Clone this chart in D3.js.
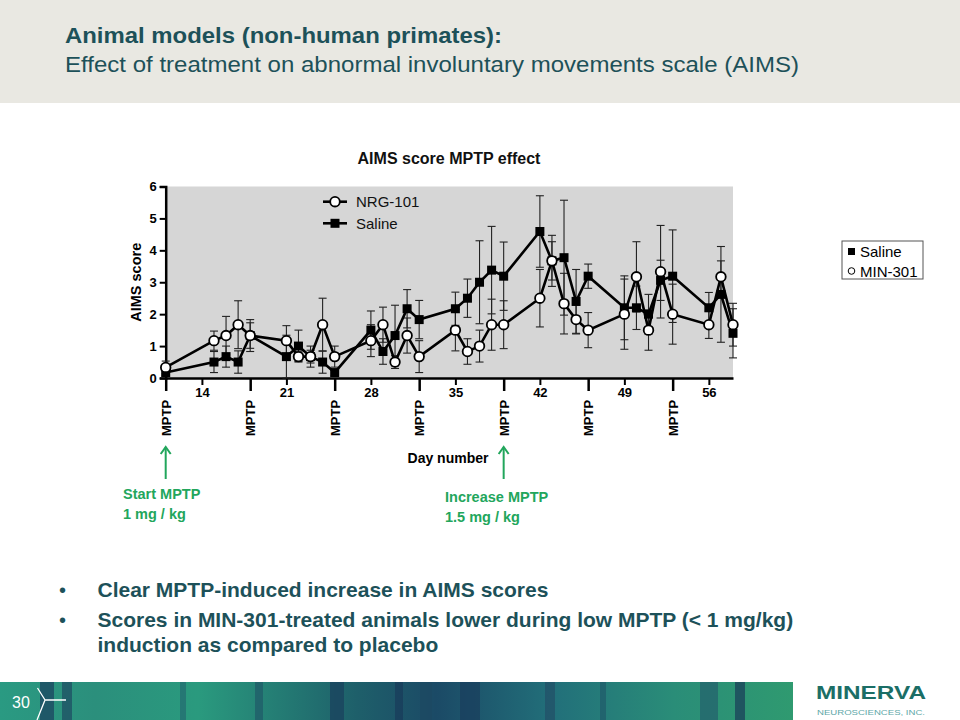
<!DOCTYPE html>
<html>
<head>
<meta charset="utf-8">
<script src="https://cdn.jsdelivr.net/npm/d3@7"></script>
<style>
  html, body { margin: 0; padding: 0; background: #fff; }
  svg { display: block; font-family: "Liberation Sans", Arial, sans-serif; }
</style>
</head>
<body>
<svg id="chart" width="960" height="720"></svg>
<script>
// ---- Data ----
const days = [11,15,16,17,18,21,22,23,24,25,28,29,30,31,32,35,36,37,38,39,42,43,44,45,46,49,50,51,52,53,56,57,58];
const nrgValues = [0.33,1.17,1.33,1.67,1.33,1.17,0.67,0.67,1.67,0.67,1.17,1.67,0.5,1.33,0.67,1.5,0.83,1.0,1.67,1.67,2.5,3.67,2.33,1.83,1.5,2.0,3.17,1.5,3.33,2.0,1.67,3.17,1.67];
const nrgErrors = [0.2,0.3,0.6,0.75,0.5,0.47,0.15,0.33,0.83,0.33,0.5,0.55,0.2,0.55,0.5,0.65,0.4,0.5,0.8,0.75,0.9,0.6,0.95,0.45,0.55,1.1,1.1,0.63,1.45,0.94,0.43,0.5,0.67];
const salineValues = [0.17,0.5,0.67,0.5,1.33,0.67,1.0,0.67,0.5,0.17,1.5,0.83,1.33,2.17,1.83,2.17,2.5,3.0,3.38,3.19,4.59,3.67,3.77,2.4,3.19,2.2,2.2,2.0,3.06,3.19,2.2,2.62,1.4];
const salineErrors = [0.1,0.33,0.33,0.35,0.4,0.67,0.5,0.2,0.35,0.1,0.6,0.4,0.95,0.6,0.6,0.52,0.6,1.3,1.37,1.07,1.12,0.8,1.8,1.0,0.38,1.0,0.68,0.62,0.63,1.45,0.48,1.5,0.77];
const dayTicks = [14,21,28,35,42,49,56];
const mptpDays = [11,18,25,32,39,46,53];
const yTicks = [0,1,2,3,4,5,6];
const seriesNames = ["NRG-101","Saline"];
const sideLegend = ["Saline","MIN-301"];
const titleLines = ["Animal models (non-human primates):","Effect of treatment on abnormal involuntary movements scale (AIMS)"];
const bullets = [["Clear MPTP-induced increase in AIMS scores"],["Scores in MIN-301-treated animals lower during low MPTP (< 1 mg/kg)","induction as compared to placebo"]];
const annotations = [{day:11, lines:["Start MPTP","1 mg / kg"]},{day:39, lines:["Increase MPTP","1.5 mg / kg"]}];

const svg = d3.select("#chart");
const teal = "#1d5159";
const green = "#22a65c";

// ---- Header ----
svg.append("rect").attr("x",0).attr("y",0).attr("width",960).attr("height",103).attr("fill","#e9e8e2");
svg.append("text").attr("x",65).attr("y",43).attr("fill",teal)
  .attr("font-size",22).attr("font-weight","bold").attr("textLength",437).attr("lengthAdjust","spacingAndGlyphs").text(titleLines[0]);
svg.append("text").attr("x",65).attr("y",72).attr("fill",teal)
  .attr("font-size",21.5).attr("textLength",734).attr("lengthAdjust","spacingAndGlyphs").text(titleLines[1]);

// ---- Chart ----
const x = d3.scaleLinear().domain([11,58]).range([165.7,733]);
const y = d3.scaleLinear().domain([0,6]).range([378,186.5]);

svg.append("rect").attr("x",x(11)).attr("y",y(6)).attr("width",x(58)-x(11)).attr("height",y(0)-y(6)).attr("fill","#d6d6d6");

svg.append("text").attr("x",449).attr("y",164).attr("text-anchor","middle")
  .attr("font-size",16).attr("font-weight","bold").attr("fill","#111").text("AIMS score MPTP effect");

// y axis
const yAxis = svg.append("g").attr("transform",`translate(${x(11)},0)`)
  .call(d3.axisLeft(y).tickValues(yTicks).tickFormat(d3.format("d")).tickSize(6).tickPadding(3));
yAxis.select(".domain").attr("stroke","#000").attr("stroke-width",2.5);
yAxis.selectAll(".tick line").attr("stroke","#000").attr("stroke-width",2);
yAxis.selectAll(".tick text").attr("font-size",13).attr("font-weight","bold").attr("fill","#000").attr("font-family","Liberation Sans, Arial, sans-serif");

svg.append("text").attr("transform",`translate(141,${y(3)}) rotate(-90)`).attr("text-anchor","middle")
  .attr("font-size",14.5).attr("font-weight","bold").attr("fill","#000").text("AIMS score");

// x axis: numbered ticks
const xAxis = svg.append("g").attr("transform",`translate(0,${y(0)})`)
  .call(d3.axisBottom(x).tickValues(dayTicks).tickFormat(d3.format("d")).tickSize(7).tickPadding(3).tickSizeOuter(0));
xAxis.select(".domain").attr("stroke","#000").attr("stroke-width",2.5);
xAxis.selectAll(".tick line").attr("stroke","#000").attr("stroke-width",2);
xAxis.selectAll(".tick text").attr("font-size",13).attr("font-weight","bold").attr("fill","#000").attr("font-family","Liberation Sans, Arial, sans-serif");

// MPTP ticks
const mAxis = svg.append("g").attr("transform",`translate(0,${y(0)})`)
  .call(d3.axisBottom(x).tickValues(mptpDays).tickFormat(() => "MPTP").tickSize(13).tickPadding(0).tickSizeOuter(0));
mAxis.select(".domain").remove();
mAxis.selectAll(".tick line").attr("stroke","#000").attr("stroke-width",2.5);
mAxis.selectAll(".tick text").attr("font-size",13).attr("font-weight","bold").attr("fill","#000")
  .attr("font-family","Liberation Sans, Arial, sans-serif")
  .attr("x",0).attr("y",0).attr("dy","0.36em")
  .attr("transform","translate(0,58) rotate(-90)").attr("text-anchor","start");

svg.append("text").attr("x",448).attr("y",463).attr("text-anchor","middle")
  .attr("font-size",14).attr("font-weight","bold").attr("fill","#000").text("Day number");

// series data
function mk(vals, errs) { return days.map((d,i)=>({day:d, v:vals[i], e:errs[i]})); }
const series = [
  {name:seriesNames[1], data: mk(salineValues, salineErrors), type:"square"},
  {name:seriesNames[0], data: mk(nrgValues, nrgErrors), type:"circle"}
];

const gErr = svg.append("g");
series.forEach(s => {
  const g = gErr.append("g");
  s.data.forEach(p => {
    const lo = y(Math.max(0,p.v - p.e)), hi = y(Math.min(6.2,p.v + p.e));
    g.append("line").attr("x1",x(p.day)).attr("x2",x(p.day)).attr("y1",lo).attr("y2",hi).attr("stroke","#222").attr("stroke-width",1.1);
    [lo,hi].forEach(yy => g.append("line").attr("x1",x(p.day)-4).attr("x2",x(p.day)+4).attr("y1",yy).attr("y2",yy).attr("stroke","#222").attr("stroke-width",1.1));
  });
});

const line = d3.line().x(d=>x(d.day)).y(d=>y(d.v));
series.forEach(s => {
  svg.append("path").datum(s.data).attr("d",line).attr("fill","none").attr("stroke","#000").attr("stroke-width",2.6).attr("stroke-linejoin","miter");
});
series.forEach(s => {
  const g = svg.append("g");
  if (s.type === "square") {
    g.selectAll("rect").data(s.data).join("rect")
      .attr("x",d=>x(d.day)-4.5).attr("y",d=>y(d.v)-4.5).attr("width",9).attr("height",9).attr("fill","#000");
  } else {
    g.selectAll("circle").data(s.data).join("circle")
      .attr("cx",d=>x(d.day)).attr("cy",d=>y(d.v)).attr("r",4.8).attr("fill","#fff").attr("stroke","#000").attr("stroke-width",1.8);
  }
});

// inner legend
const leg = svg.append("g");
[[201.7,"circle",seriesNames[0]],[223.3,"square",seriesNames[1]]].forEach(([ly,t,name]) => {
  leg.append("line").attr("x1",323).attr("x2",347).attr("y1",ly).attr("y2",ly).attr("stroke","#000").attr("stroke-width",2.6);
  if (t==="circle") leg.append("circle").attr("cx",335).attr("cy",ly).attr("r",4.8).attr("fill","#fff").attr("stroke","#000").attr("stroke-width",1.8);
  else leg.append("rect").attr("x",330.5).attr("y",ly-4.5).attr("width",9).attr("height",9).attr("fill","#000");
  leg.append("text").attr("x",356).attr("y",ly+5.5).attr("font-size",15).attr("fill","#111").text(name);
});

// side legend
svg.append("rect").attr("x",842).attr("y",241).attr("width",81).attr("height",38).attr("fill","#fff").attr("stroke","#555").attr("stroke-width",1);
svg.append("rect").attr("x",848).attr("y",248).attr("width",7).attr("height",7).attr("fill","#000");
svg.append("circle").attr("cx",851.5).attr("cy",271).attr("r",3.3).attr("fill","#fff").attr("stroke","#000").attr("stroke-width",1);
svg.append("text").attr("x",860).attr("y",257).attr("font-size",15).attr("fill","#000").text(sideLegend[0]);
svg.append("text").attr("x",860).attr("y",276.5).attr("font-size",15).attr("fill","#000").text(sideLegend[1]);

// annotations (green arrows)
annotations.forEach((a, i) => {
  const ax = x(a.day);
  const g = svg.append("g").attr("stroke",green).attr("stroke-width",2).attr("fill","none");
  g.append("line").attr("x1",ax).attr("x2",ax).attr("y1",447).attr("y2",479);
  g.append("path").attr("d",`M${ax-5},${454}L${ax},${447}L${ax+5},${454}`);
  const tx = i===0 ? 123 : 445;
  const ty = i===0 ? 499 : 502;
  a.lines.forEach((t,k) => svg.append("text").attr("x",tx).attr("y",ty+k*20).attr("font-size",14.5).attr("font-weight","bold").attr("fill",green).text(t));
});

// bullets
const bulletY = [[597],[627,652]];
bullets.forEach((b,i) => {
  svg.append("text").attr("x",59).attr("y",bulletY[i][0]).attr("font-size",20).attr("fill",teal).text("•");
  b.forEach((t,k) => svg.append("text").attr("x",97.5).attr("y",bulletY[i][k]).attr("font-size",21).attr("font-weight","bold").attr("fill",teal).text(t));
});

// footer band
const defs = svg.append("defs");
const grad = defs.append("linearGradient").attr("id","foot").attr("x1","0").attr("x2","1").attr("y1","0").attr("y2","0");
[[0,"#2a9a82"],[0.12,"#2b8f7c"],[0.25,"#2a9a7e"],[0.45,"#1e5f6a"],[0.55,"#1b4a66"],[0.7,"#22707a"],[0.85,"#2a8d78"],[1,"#2f9a70"]].forEach(([o,c]) =>
  grad.append("stop").attr("offset",o).attr("stop-color",c));
svg.append("rect").attr("x",0).attr("y",682).attr("width",793).attr("height",38).attr("fill","url(#foot)");
const stripes = [[40,14,"#1b3f5e"],[62,10,"#1e4a62"],[180,6,"#236a70"],[255,8,"#1f5868"],[330,14,"#1a3f5c"],[395,8,"#183b5a"],[420,12,"#1d4862"],[460,20,"#1a3d5c"],[545,10,"#224f66"],[600,6,"#1f5a6a"],[700,18,"#235f6c"],[735,10,"#1a3a58"]];
stripes.forEach(([sx,w,c]) => svg.append("rect").attr("x",sx).attr("y",682).attr("width",w).attr("height",38).attr("fill",c).attr("opacity",0.7));
svg.append("text").attr("x",12).attr("y",708).attr("font-size",16).attr("fill","#fff").text("30");
svg.append("path").attr("d","M37.5,688L45,700L37,720M45,700L66,700").attr("stroke","#fff").attr("stroke-width",1.3).attr("fill","none");

// logo
svg.append("text").attr("x",816).attr("y",699).attr("font-size",19).attr("font-weight","bold").attr("fill","#1b6e66")
  .attr("textLength",110).attr("lengthAdjust","spacingAndGlyphs").text("MINERVA");
svg.append("text").attr("x",817).attr("y",715).attr("font-size",7.5).attr("fill","#5ea7a8")
  .attr("textLength",108).attr("lengthAdjust","spacingAndGlyphs").text("NEUROSCIENCES, INC.");
</script>
</body>
</html>
